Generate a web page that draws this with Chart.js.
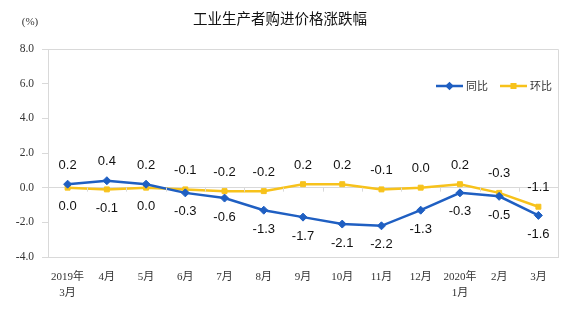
<!DOCTYPE html>
<html>
<head>
<meta charset="utf-8">
<script src="https://cdn.jsdelivr.net/npm/chart.js@4/dist/chart.umd.min.js"></script>
<style>
  html, body { margin: 0; padding: 0; background: #fff; }
  #wrap { width: 576px; height: 331px; position: relative; }
</style>
</head>
<body>
<div id="wrap"><canvas id="jgChart" width="576" height="331"></canvas></div>
<script>
// 月份
var months = [['2019年', '3月'], '4月', '5月', '6月', '7月', '8月', '9月', '10月', '11月', '12月', ['2020年', '1月'], '2月', '3月'];
// 同比
var tongbi = [0.2, 0.4, 0.2, -0.3, -0.6, -1.3, -1.7, -2.1, -2.2, -1.3, -0.3, -0.5, -1.6];
// 环比
var huanbi = [0.0, -0.1, 0.0, -0.1, -0.2, -0.2, 0.2, 0.2, -0.1, 0.0, 0.2, -0.3, -1.1];
var yTicks = [-4, -2, 0, 2, 4, 6, 8];

var BLUE = '#1f5fc2';
var GOLD = '#f7c21b';
var AXIS = '#d9d9d9';
var serif = '"Liberation Serif", "Noto Sans CJK SC", serif';
var sans = '"Liberation Sans", Arial, sans-serif';
var cjk = '"Noto Sans CJK SC", sans-serif';

// 标题、单位、图例、框线
var decor = {
    id: 'decor',
    afterDraw: function (chart) {
        var ctx = chart.ctx;
        var a = chart.chartArea;
        ctx.save();

        ctx.strokeStyle = AXIS;
        ctx.lineWidth = 1;
        ctx.beginPath();
        ctx.moveTo(a.left, a.top + 0.5);
        ctx.lineTo(a.right + 0.5, a.top + 0.5);
        ctx.lineTo(a.right + 0.5, a.bottom);
        ctx.stroke();

        // 零线上的刻度
        var xs = chart.scales.x;
        var y0 = chart.scales.y.getPixelForValue(0);
        ctx.beginPath();
        for (var i = 1; i < months.length; i++) {
            var bx = Math.round((xs.getPixelForValue(i - 1) + xs.getPixelForValue(i)) / 2) + 0.5;
            ctx.moveTo(bx, y0);
            ctx.lineTo(bx, y0 + 4);
        }
        ctx.stroke();

        ctx.fillStyle = '#111';
        ctx.font = '14.5px ' + cjk;
        ctx.textAlign = 'center';
        ctx.textBaseline = 'middle';
        ctx.fillText('工业生产者购进价格涨跌幅', 280, 18);

        ctx.fillStyle = '#333';
        ctx.font = '11px ' + serif;
        ctx.fillText('(%)', 30, 22);

        // 图例
        var items = [
            { text: '同比', color: BLUE, x: 436, style: 'rectRot' },
            { text: '环比', color: GOLD, x: 500, style: 'rect' }
        ];
        items.forEach(function (it) {
            var ly = 86;
            ctx.strokeStyle = it.color;
            ctx.lineWidth = 2.5;
            ctx.beginPath();
            ctx.moveTo(it.x, ly);
            ctx.lineTo(it.x + 27, ly);
            ctx.stroke();
            Chart.helpers.drawPoint(ctx, { pointStyle: it.style, radius: 2.5, borderWidth: 1 }, it.x + 13.5, ly);
            ctx.fillStyle = it.color;
            ctx.fill();
            ctx.fillStyle = '#333';
            ctx.font = '11px ' + cjk;
            ctx.textAlign = 'left';
            ctx.fillText(it.text, it.x + 30, ly);
        });
        ctx.restore();
    }
};

// 数据标签：较高的一组写在上方，较低的写在下方
var valueLabels = {
    id: 'valueLabels',
    afterDatasetsDraw: function (chart) {
        var ctx = chart.ctx;
        ctx.save();
        ctx.font = '13px ' + sans;
        ctx.fillStyle = '#111';
        ctx.textAlign = 'center';
        ctx.textBaseline = 'middle';
        chart.data.datasets.forEach(function (ds, di) {
            var other = chart.data.datasets[1 - di].data;
            chart.getDatasetMeta(di).data.forEach(function (pt, i) {
                var v = ds.data[i];
                var up = v > other[i];
                ctx.fillText(v.toFixed(1), pt.x, pt.y + (up ? -19 : 19));
            });
        });
        ctx.restore();
    }
};

new Chart(document.getElementById('jgChart'), {
    type: 'line',
    data: {
        labels: months,
        datasets: [{
            label: '同比',
            data: tongbi,
            borderColor: BLUE,
            backgroundColor: BLUE,
            borderWidth: 2.5,
            pointStyle: 'rectRot',
            pointRadius: 4,
            pointBorderWidth: 1,
            tension: 0
        }, {
            label: '环比',
            data: huanbi,
            borderColor: GOLD,
            backgroundColor: GOLD,
            borderWidth: 2.5,
            pointStyle: 'rect',
            pointRadius: 3.5,
            pointBorderWidth: 1,
            tension: 0
        }]
    },
    options: {
        responsive: false,
        animation: false,
        devicePixelRatio: 1,
        layout: { padding: { top: 49, right: 18, left: 0, bottom: 0 } },
        plugins: {
            legend: { display: false },
            title: { display: false },
            tooltip: { enabled: false }
        },
        scales: {
            x: {
                offset: true,
                grid: { display: false },
                border: { display: true, color: AXIS },
                ticks: {
                    color: '#333',
                    font: { family: serif, size: 11, lineHeight: 1.45 },
                    padding: 4,
                    maxRotation: 0,
                    autoSkip: false
                },
                afterFit: function (s) { s.height = 74; }
            },
            y: {
                min: -4,
                max: 8,
                afterBuildTicks: function (s) {
                    s.ticks = yTicks.map(function (v) { return { value: v }; });
                },
                grid: {
                    color: function (c) { return c.tick && c.tick.value === 0 ? AXIS : 'rgba(0,0,0,0)'; },
                    tickColor: AXIS,
                    tickLength: 6
                },
                border: { display: true, color: AXIS },
                ticks: {
                    color: '#333',
                    font: { family: serif, size: 11.5 },
                    padding: 8,
                    callback: function (v) { return Number(v).toFixed(1); }
                },
                afterFit: function (s) { s.width = 48; }
            }
        }
    },
    plugins: [decor, valueLabels]
});
</script>
</body>
</html>
